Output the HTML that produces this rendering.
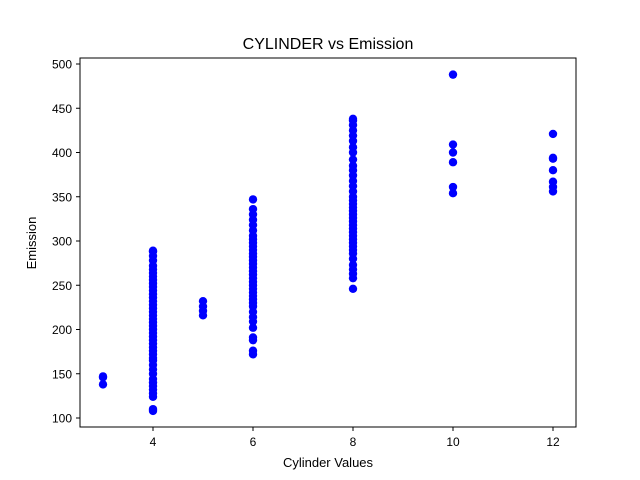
<!DOCTYPE html>
<html><head><meta charset="utf-8"><style>
body{margin:0;background:#fff;}
svg{display:block;font-family:"Liberation Sans","DejaVu Sans",sans-serif;}
</style></head><body>
<svg id="chart" width="640" height="480">
<rect width="640" height="480" fill="#fff"/>
<text x="328" y="49" font-size="16" text-anchor="middle">CYLINDER vs Emission</text>
<g id="points"></g>
<rect x="80" y="58" width="496" height="369" fill="none" stroke="#000" stroke-width="1"/>
<g id="xticks"></g>
<g id="yticks"></g>
<text x="328" y="467" font-size="13" text-anchor="middle">Cylinder Values</text>
<text x="36" y="243" font-size="13" text-anchor="middle" transform="rotate(-90 36 243)">Emission</text>
</svg>
<script>
const xTicks=[4,6,8,10,12];
const yTicks=[100,150,200,250,300,350,400,450,500];
const cyl3=[147,146,138];
const cyl4=[108,110,124,128,132,136,140,144,150,155,160,165,168,172,176,180,184,188,192,196,200,204,208,212,216,220,224,228,232,236,240,244,248,252,256,260,264,268,272,278,283,288,289];
const cyl5=[232,226,221,216];
const cyl6=[172,176,188,191,202,209,214,220,226,230,234,238,242,246,250,254,258,262,266,270,274,278,282,286,290,294,298,302,306,312,318,324,330,336,347];
const cyl8=[246,258,263,268,273,280,286,290,294,298,302,306,310,314,318,322,326,330,334,338,342,346,350,356,362,368,374,380,385,392,400,406,413,419,425,431,436,438];
const cyl10=[488,409,400,389,361,354];
const cyl12=[421,394,393,380,367,361,356];
const groups=[[3,cyl3],[4,cyl4],[5,cyl5],[6,cyl6],[8,cyl8],[10,cyl10],[12,cyl12]];
const X=v=>103+(v-3)*50;
const Y=v=>418-(v-100)*(354/400);
const NS="http://www.w3.org/2000/svg";
const pts=document.getElementById('points');
groups.forEach(([c,vals])=>vals.forEach(v=>{
  const e=document.createElementNS(NS,'circle');
  e.setAttribute('cx',X(c));e.setAttribute('cy',Y(v));e.setAttribute('r',4.2);e.setAttribute('fill','#0000ff');
  
  
  pts.appendChild(e);
}));
const xg=document.getElementById('xticks');
xTicks.forEach(t=>{
  const l=document.createElementNS(NS,'line');
  l.setAttribute('x1',X(t));l.setAttribute('x2',X(t));l.setAttribute('y1',427);l.setAttribute('y2',431);l.setAttribute('stroke','#000');
  
  
  xg.appendChild(l);
  const tx=document.createElementNS(NS,'text');
  tx.setAttribute('x',X(t));tx.setAttribute('y',446);tx.setAttribute('font-size','12');tx.setAttribute('text-anchor','middle');tx.textContent=t;
  
  
  xg.appendChild(tx);
});
const yg=document.getElementById('yticks');
yTicks.forEach(t=>{
  const l=document.createElementNS(NS,'line');
  l.setAttribute('x1',76);l.setAttribute('x2',80);l.setAttribute('y1',Y(t));l.setAttribute('y2',Y(t));l.setAttribute('stroke','#000');
  
  
  yg.appendChild(l);
  const tx=document.createElementNS(NS,'text');
  tx.setAttribute('x',72);tx.setAttribute('y',Y(t)+4.5);tx.setAttribute('font-size','12');tx.setAttribute('text-anchor','end');tx.textContent=t;
  
  
  yg.appendChild(tx);
});
</script>
</body></html>
